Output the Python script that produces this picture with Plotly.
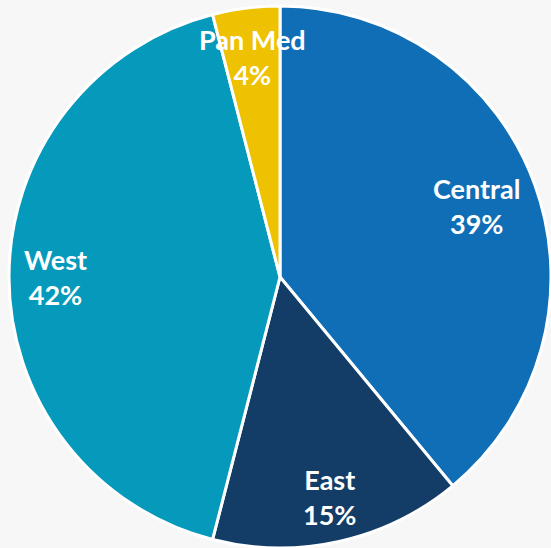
import math
import plotly.graph_objects as go

regions = ["Central", "East", "West", "Pan Med"]
shares = [39, 15, 42, 4]
colors = ["#0F6EB5", "#133D66", "#059ABB", "#EEC200"]
# radial position of each label, as a fraction of the radius
label_r = [0.77, 0.83, 0.83, 0.82]

W, H = 551, 548
# pie geometry in pixels (center and radius) used to place the labels
cx, cy, r = 280, 277, 271
dom_x = [(cx - r) / W, (cx + r) / W]
dom_y = [(H - cy - r) / H, (H - cy + r) / H]
dom_x = [max(0, dom_x[0]), min(1, dom_x[1])]
dom_y = [max(0, dom_y[0]), min(1, dom_y[1])]

fig = go.Figure(go.Pie(
    labels=regions,
    values=shares,
    sort=False,
    direction="clockwise",
    rotation=0,
    marker=dict(colors=colors, line=dict(color="white", width=3)),
    textinfo="none",
    hoverinfo="label+percent",
    showlegend=False,
    domain=dict(x=dom_x, y=dom_y),
))

# labels placed along each slice's mid-angle
total = sum(shares)
annotations = []
acc = 0
for name, v, fr in zip(regions, shares, label_r):
    mid = (acc + v / 2) / total * 2 * math.pi
    acc += v
    rr = fr * r
    px = cx + rr * math.sin(mid)
    py = cy - rr * math.cos(mid)
    annotations.append(dict(
        x=px / W, y=1 - py / H, xref="paper", yref="paper",
        xanchor="center", yanchor="middle",
        text=f"{name}<br>{round(v / total * 100)}%",
        showarrow=False,
        font=dict(family="Lato", size=27, color="white", weight="bold"),
        align="center",
    ))

fig.update_layout(
    width=W, height=H,
    margin=dict(l=0, r=0, t=0, b=0),
    paper_bgcolor="#F7F7F7",
    plot_bgcolor="#F7F7F7",
    annotations=annotations,
)

fig.write_html("out.html")
